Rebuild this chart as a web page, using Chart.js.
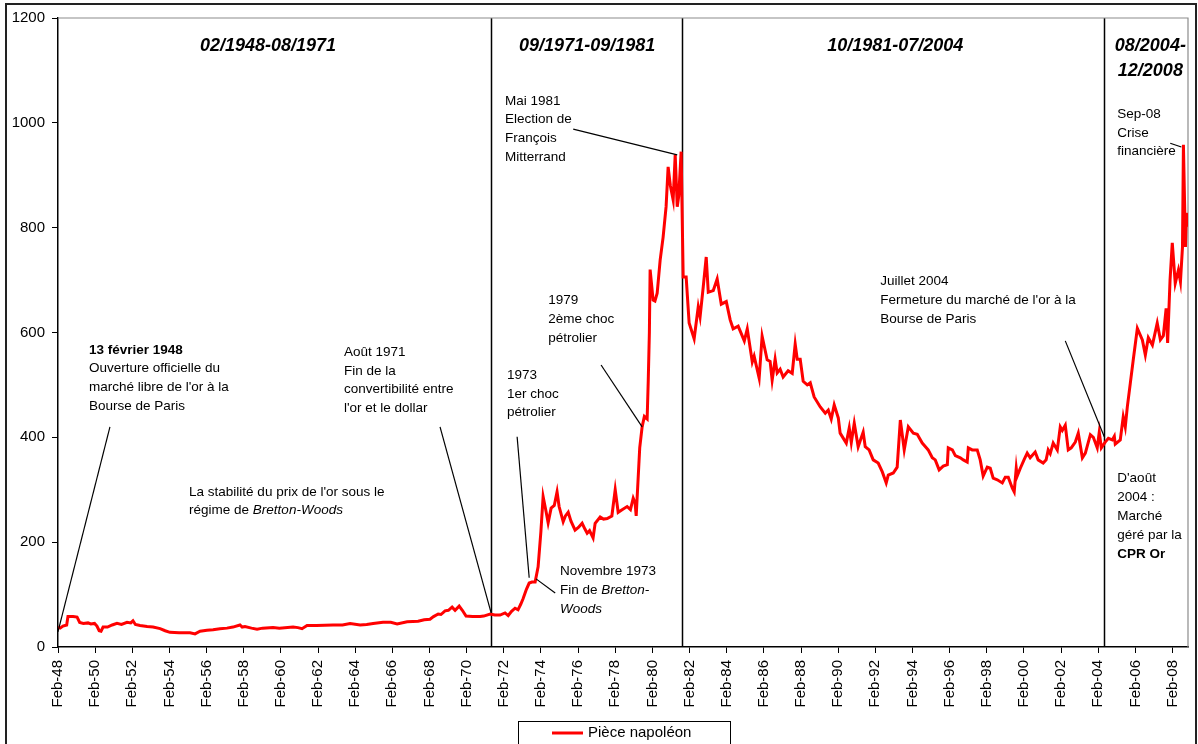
<!DOCTYPE html>
<html lang="fr">
<head>
<meta charset="UTF-8">
<title>Pièce napoléon</title>
<script src="https://cdn.jsdelivr.net/npm/chart.js"></script>
<style>
  html, body { margin: 0; padding: 0; background: #fff; }
</style>
</head>
<body>
<canvas id="napoleonChart" width="1198" height="744"></canvas>
<script>
// monthly price of the napoléon coin (decimal years)
const years = [
  1948.08, 1948.20, 1948.35, 1948.55, 1948.62, 1948.90, 1949.11, 1949.25, 1949.45, 1949.70,
  1949.85, 1950.05, 1950.18, 1950.30, 1950.40, 1950.51, 1950.75, 1951.00, 1951.26, 1951.50,
  1951.80, 1952.00, 1952.12, 1952.25, 1952.50, 1952.88, 1953.20, 1953.58, 1953.85, 1954.11,
  1954.60, 1955.19, 1955.46, 1955.73, 1956.10, 1956.43, 1956.80, 1957.18, 1957.50, 1957.88,
  1958.00, 1958.15, 1958.50, 1958.80, 1959.10, 1959.66, 1960.00, 1960.74, 1961.00, 1961.22,
  1961.49, 1962.00, 1962.89, 1963.40, 1963.81, 1964.35, 1964.70, 1965.05, 1965.58, 1966.00,
  1966.34, 1966.88, 1967.47, 1967.80, 1968.11, 1968.30, 1968.55, 1968.70, 1968.92, 1969.10,
  1969.30, 1969.46, 1969.68, 1969.85, 1970.05, 1970.40, 1970.81, 1971.00, 1971.35, 1971.60,
  1971.88, 1972.15, 1972.32, 1972.50, 1972.69, 1972.85, 1973.00, 1973.12, 1973.30, 1973.45,
  1973.60, 1973.77, 1973.93, 1974.08, 1974.20, 1974.35, 1974.47, 1974.63, 1974.80, 1974.95,
  1975.06, 1975.28, 1975.40, 1975.55, 1975.70, 1975.92, 1976.10, 1976.30, 1976.45, 1976.57,
  1976.70, 1976.89, 1977.00, 1977.27, 1977.45, 1977.65, 1977.90, 1978.08, 1978.24, 1978.45,
  1978.72, 1978.90, 1979.05, 1979.15, 1979.21, 1979.40, 1979.53, 1979.65, 1979.80, 1979.86,
  1979.92, 1979.96, 1980.12, 1980.22, 1980.34, 1980.50, 1980.66, 1980.82, 1980.93, 1981.05,
  1981.20, 1981.31, 1981.42, 1981.50, 1981.63, 1981.74, 1981.90, 1982.06, 1982.33, 1982.55,
  1982.65, 1982.82, 1982.98, 1983.09, 1983.36, 1983.57, 1983.79, 1984.06, 1984.27, 1984.43,
  1984.70, 1985.03, 1985.19, 1985.46, 1985.56, 1985.83, 1985.99, 1986.26, 1986.42, 1986.53,
  1986.69, 1986.80, 1986.96, 1987.12, 1987.39, 1987.61, 1987.77, 1987.88, 1988.04, 1988.20,
  1988.42, 1988.58, 1988.79, 1989.12, 1989.39, 1989.55, 1989.71, 1989.87, 1990.09, 1990.19,
  1990.52, 1990.68, 1990.79, 1990.95, 1991.16, 1991.43, 1991.54, 1991.75, 1991.97, 1992.24,
  1992.46, 1992.67, 1992.78, 1993.05, 1993.26, 1993.43, 1993.64, 1993.86, 1994.13, 1994.34,
  1994.61, 1994.83, 1994.93, 1995.15, 1995.31, 1995.52, 1995.74, 1995.96, 1996.01, 1996.23,
  1996.39, 1996.66, 1996.82, 1997.03, 1997.09, 1997.30, 1997.57, 1997.73, 1997.89, 1998.11,
  1998.27, 1998.43, 1998.65, 1998.92, 1999.08, 1999.24, 1999.46, 1999.56, 1999.67, 1999.72,
  1999.89, 2000.10, 2000.26, 2000.42, 2000.69, 2000.85, 2001.12, 2001.28, 2001.39, 2001.50,
  2001.66, 2001.88, 2002.04, 2002.15, 2002.31, 2002.47, 2002.63, 2002.85, 2003.01, 2003.23,
  2003.39, 2003.66, 2003.82, 2004.03, 2004.14, 2004.25, 2004.46, 2004.63, 2004.84, 2004.95,
  2005.00, 2005.27, 2005.43, 2005.54, 2005.65, 2005.81, 2005.97, 2006.19, 2006.46, 2006.62,
  2006.78, 2007.00, 2007.26, 2007.43, 2007.59, 2007.74, 2007.82, 2007.95, 2008.07, 2008.23,
  2008.40, 2008.51, 2008.62, 2008.67, 2008.78, 2008.83, 2008.92
];
const prices = [
  38, 36, 40, 42, 58, 58, 57, 47, 45, 46,
  44, 45, 40, 31, 30, 38, 38, 42, 45, 43,
  47, 46, 50, 43, 41, 39, 38, 35, 31, 28,
  27, 27, 25, 30, 32, 33, 35, 36, 38, 42,
  38, 39, 36, 34, 36, 37, 36, 38, 37, 35,
  41, 41, 42, 42, 45, 42, 43, 45, 47, 47,
  44, 48, 49, 52, 53, 58, 63, 62, 69, 70,
  76, 70, 78, 70, 59, 58, 58, 59, 63, 61,
  61, 65, 60, 68, 74, 71, 82, 92, 110, 122,
  124, 124, 153, 220, 287, 260, 237, 265, 270, 296,
  268, 239, 250, 257, 240, 223, 228, 236, 225, 217,
  222, 208, 236, 248, 244, 245, 250, 300, 257, 262,
  268, 262, 284, 275, 250, 380, 420, 440, 435, 509,
  600, 720, 662, 660, 675, 738, 782, 840, 916, 880,
  853, 939, 840, 860, 945, 706, 706, 618, 588, 649,
  630, 687, 744, 677, 680, 702, 654, 659, 624, 607,
  612, 584, 607, 544, 555, 513, 593, 548, 545, 509,
  549, 523, 530, 515, 527, 522, 578, 549, 549, 507,
  500, 504, 477, 458, 446, 452, 435, 462, 437, 408,
  389, 418, 390, 427, 382, 410, 382, 376, 357, 351,
  334, 313, 328, 332, 343, 433, 376, 420, 408, 406,
  389, 380, 376, 361, 357, 338, 345, 348, 380, 376,
  365, 361, 357, 353, 380, 376, 376, 357, 326, 343,
  341, 322, 319, 313, 324, 324, 303, 296, 341, 326,
  341, 358, 370, 361, 372, 357, 351, 357, 376, 369,
  389, 376, 420, 413, 423, 376, 380, 391, 408, 361,
  370, 405, 400, 380, 410, 380, 391, 398, 395, 402,
  387, 395, 439, 420, 458, 503, 548, 608, 586, 557,
  590, 576, 618, 586, 594, 646, 580, 700, 771, 694,
  719, 697, 763, 958, 763, 828, 802
];

const tickLabels = [
  'Feb-48', 'Feb-50', 'Feb-52', 'Feb-54', 'Feb-56', 'Feb-58', 'Feb-60', 'Feb-62',
  'Feb-64', 'Feb-66', 'Feb-68', 'Feb-70', 'Feb-72', 'Feb-74', 'Feb-76', 'Feb-78',
  'Feb-80', 'Feb-82', 'Feb-84', 'Feb-86', 'Feb-88', 'Feb-90', 'Feb-92', 'Feb-94',
  'Feb-96', 'Feb-98', 'Feb-00', 'Feb-02', 'Feb-04', 'Feb-06', 'Feb-08'
];
const seriesName = 'Pièce napoléon';

// period separators (Aug-71, Sep-81, Jul-04) and period titles
const periodBreaks = [1971.40, 1981.69, 2004.41];
const periodTitles = [
  { x: 1959.39, y: 1147, lines: ['02/1948-08/1971'] },
  { x: 1976.57, y: 1147, lines: ['09/1971-09/1981'] },
  { x: 1993.16, y: 1147, lines: ['10/1981-07/2004'] },
  { x: 2006.89, y: 1147, lines: ['08/2004-', '12/2008'] }
];

// text callouts: anchor (year, value) of first line, optional leader line
const notes = [
  { at: [1949.75, 567], lines: [[['13 février 1948', 'bold']], 'Ouverture officielle du', "marché libre de l'or à la", 'Bourse de Paris'],
    leader: [[1950.88, 420], [1948.08, 29]] },
  { at: [1963.48, 563], lines: ['Août 1971', 'Fin de la', 'convertibilité entre', "l'or et le dollar"],
    leader: [[1968.65, 420], [1971.40, 65]] },
  { at: [1955.14, 296], lines: ["La stabilité du prix de l'or sous le", [['régime de ', ''], ['Bretton-Woods', 'italic']]] },
  { at: [1972.15, 1042], lines: ['Mai 1981', 'Election de', 'François', 'Mitterrand'],
    leader: [[1975.82, 988], [1981.42, 939]] },
  { at: [1974.47, 662], lines: ['1979', '2ème choc', 'pétrolier'],
    leader: [[1977.32, 538], [1979.53, 420]] },
  { at: [1972.26, 519], lines: ['1973', '1er choc', 'pétrolier'],
    leader: [[1972.80, 401], [1973.45, 132]] },
  { at: [1975.11, 145], lines: ['Novembre 1973', [['Fin de ', ''], ['Bretton-', 'italic']], [['Woods', 'italic']]],
    leader: [[1973.82, 130], [1974.85, 103]] },
  { at: [1992.35, 698], lines: ['Juillet 2004', "Fermeture du marché de l'or à la", 'Bourse de Paris'],
    leader: [[2002.31, 584], [2004.41, 401]] },
  { at: [2005.11, 1017], lines: ['Sep-08', 'Crise', 'financière'],
    leader: [[2007.96, 961], [2008.56, 954]] },
  { at: [2005.11, 322], lines: ["D'août", '2004 :', 'Marché', 'géré par la', [['CPR Or', 'bold']]] }
];

const FONT = '"Liberation Sans", Arial, Helvetica, sans-serif';
const firstTick = 1948 + 1 / 12;

function drawLines(ctx, x, y, lines, size, baseStyle, align) {
  lines.forEach((line, i) => {
    const segs = typeof line === 'string' ? [[line, '']] : line;
    let total = 0;
    segs.forEach(([t, s]) => { ctx.font = `${baseStyle} ${s} ${size}px ${FONT}`; total += ctx.measureText(t).width; });
    let cx = align === 'center' ? x - total / 2 : x;
    segs.forEach(([t, s]) => {
      ctx.font = `${baseStyle} ${s} ${size}px ${FONT}`;
      ctx.fillText(t, cx, y + i * (size * 1.4));
      cx += ctx.measureText(t).width;
    });
  });
}

const decorations = {
  id: 'decorations',
  beforeDatasetsDraw(chart) {
    const { ctx, chartArea: a, scales: { x } } = chart;
    ctx.save();
    ctx.strokeStyle = '#000';
    ctx.lineWidth = 1.5;
    periodBreaks.forEach(v => {
      const px = Math.round(x.getPixelForValue(v)) + 0.5;
      ctx.beginPath(); ctx.moveTo(px, a.top); ctx.lineTo(px, a.bottom); ctx.stroke();
    });
    // plot frame (top and right)
    ctx.strokeStyle = '#8c8c8c';
    ctx.lineWidth = 1.2;
    ctx.beginPath();
    ctx.moveTo(a.left, a.top); ctx.lineTo(a.right, a.top); ctx.lineTo(a.right, a.bottom);
    ctx.stroke();
    ctx.restore();
  },
  afterDraw(chart) {
    const { ctx, scales: { x, y } } = chart;
    ctx.save();
    ctx.fillStyle = '#000';
    ctx.textBaseline = 'middle';
    ctx.textAlign = 'left';

    periodTitles.forEach(t => {
      drawLines(ctx, x.getPixelForValue(t.x), y.getPixelForValue(t.y), t.lines, 18, 'italic bold', 'center');
    });

    ctx.strokeStyle = '#000';
    ctx.lineWidth = 1.2;
    notes.forEach(n => {
      drawLines(ctx, x.getPixelForValue(n.at[0]), y.getPixelForValue(n.at[1]), n.lines, 13.5, '', 'left');
      if (n.leader) {
        const [p, q] = n.leader;
        ctx.beginPath();
        ctx.moveTo(x.getPixelForValue(p[0]), y.getPixelForValue(p[1]));
        ctx.lineTo(x.getPixelForValue(q[0]), y.getPixelForValue(q[1]));
        ctx.stroke();
      }
    });

    // legend box
    const lx = 518, ly = 721;
    ctx.lineWidth = 1;
    ctx.strokeRect(lx + 0.5, ly + 0.5, 212, 40);
    ctx.strokeStyle = '#ff0000';
    ctx.lineWidth = 3;
    ctx.beginPath(); ctx.moveTo(lx + 34, ly + 12); ctx.lineTo(lx + 65, ly + 12); ctx.stroke();
    ctx.font = `15px ${FONT}`;
    ctx.fillText(seriesName, lx + 70, ly + 12);

    // outer chart border
    ctx.strokeStyle = '#222';
    ctx.lineWidth = 2;
    ctx.strokeRect(6, 4, 1190, 800);
    ctx.restore();
  }
};

Chart.defaults.font.family = FONT;
Chart.defaults.color = '#000';

new Chart(document.getElementById('napoleonChart'), {
  type: 'line',
  data: {
    datasets: [{
      label: seriesName,
      data: years.map((yr, i) => ({ x: yr, y: prices[i] })),
      borderColor: '#ff0000',
      borderWidth: 3,
      pointRadius: 0,
      tension: 0,
      fill: false
    }]
  },
  options: {
    responsive: false,
    animation: false,
    layout: { padding: { top: 18, right: 10, left: 0, bottom: 0 } },
    scales: {
      x: {
        type: 'linear',
        min: firstTick,
        max: 2008 + 11 / 12,
        afterBuildTicks: axis => { axis.ticks = tickLabels.map((l, i) => ({ value: firstTick + 2 * i })); },
        afterFit: s => { s.height = 97; },
        grid: { drawOnChartArea: false, tickLength: 6, color: '#000' },
        border: { color: '#000', width: 1.5 },
        ticks: {
          autoSkip: false, minRotation: 90, maxRotation: 90, padding: 7,
          font: { size: 15 }, color: '#000',
          callback: (v, i) => tickLabels[i]
        }
      },
      y: {
        min: 0,
        max: 1200,
        afterFit: s => { s.width = 58; },
        grid: { drawOnChartArea: false, tickLength: 6, color: '#000' },
        border: { color: '#000', width: 1.5 },
        ticks: { stepSize: 200, padding: 7, font: { size: 15 }, color: '#000', callback: v => String(v) }
      }
    },
    plugins: {
      legend: { display: false },
      tooltip: { enabled: false }
    }
  },
  plugins: [decorations]
});
</script>
</body>
</html>
